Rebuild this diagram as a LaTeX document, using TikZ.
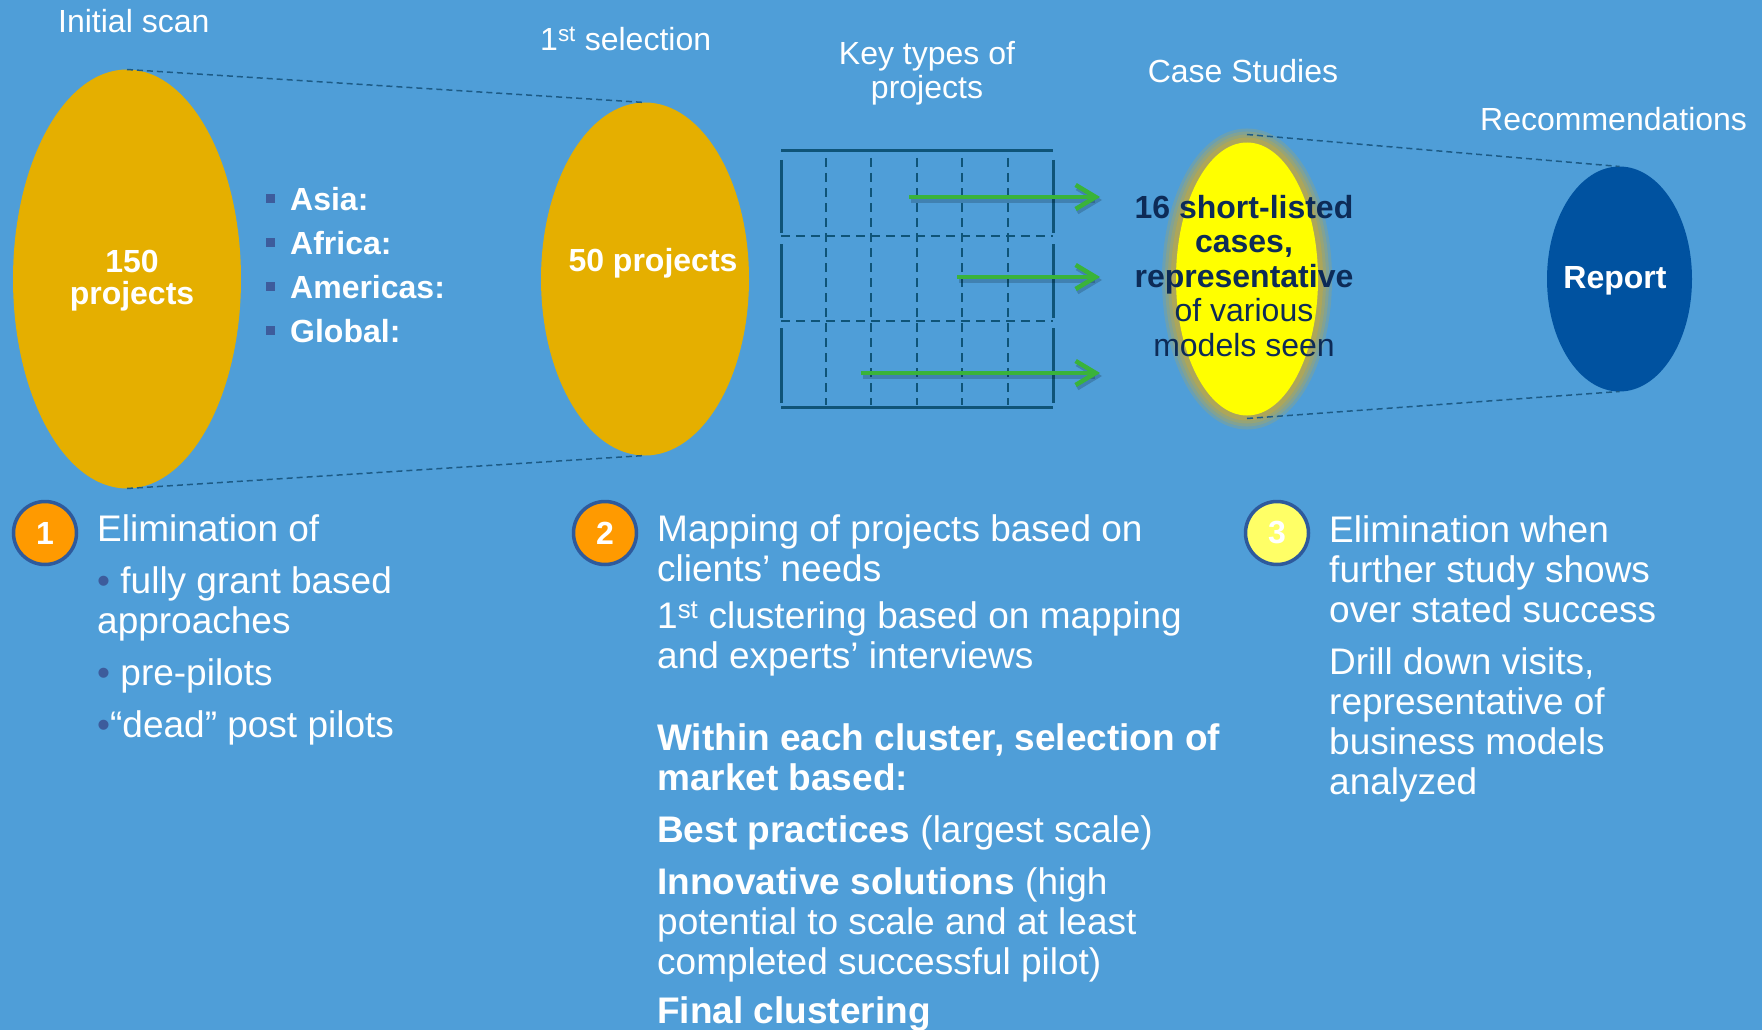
\documentclass[tikz,border=0pt]{standalone}
\usepackage{fontspec}
\setmainfont{Liberation Sans}
\usetikzlibrary{shapes.geometric,arrows.meta,positioning}
\usepackage{xcolor}

\definecolor{slide}{HTML}{4F9ED8}
\definecolor{gold}{HTML}{E5AF00}
\definecolor{caseyellow}{HTML}{FFFF00}
\definecolor{haloc}{HTML}{C9A935}
\definecolor{reportblue}{HTML}{0052A0}
\definecolor{navy}{HTML}{0D2B57}
\definecolor{linkblue}{HTML}{1D5B86}
\definecolor{gridblue}{HTML}{0F5478}
\definecolor{dotblue}{HTML}{3D5C9C}
\definecolor{pickgreen}{HTML}{3AB33A}
\definecolor{numrim}{HTML}{2E5A9C}
\definecolor{numorange}{HTML}{FF9A00}
\definecolor{numyellow}{HTML}{FFFF66}

\newcommand\dotmark{\textcolor{dotblue}{•}}

\begin{document}
\begin{tikzpicture}[x=1pt,y=1pt,
stage/.style={ellipse, inner sep=0pt, outer sep=0pt},
halo/.style={preaction={draw=haloc, line width=28pt, draw opacity=.22},
             preaction={draw=haloc, line width=22pt, draw opacity=.25},
             preaction={draw=haloc, line width=16pt, draw opacity=.3},
             preaction={draw=haloc, line width=10pt, draw opacity=.45}},
heading/.style={text=white, font=\fontsize{32}{34}\selectfont, inner sep=0pt, align=center},
stagetext/.style={text=white, font=\bfseries\fontsize{32}{32}\selectfont, inner sep=0pt, align=center},
region/.style={text=white, font=\bfseries\fontsize{32}{35}\selectfont, inner sep=0pt, anchor=base west},
stepnum/.style={circle, draw=numrim, line width=3.5pt, minimum size=63pt, inner sep=0pt, text=white, font=\bfseries\fontsize{32}{32}\selectfont},
body/.style={text=white, font=\fontsize{37}{40}\selectfont, inner sep=0pt, align=left, anchor=base west},
link/.style={linkblue, line width=1.5pt, dash pattern=on 6pt off 4pt},
gridsolid/.style={gridblue, line width=3pt},
griddash/.style={gridblue, line width=2.5pt, dash pattern=on 9pt off 6pt},
pick/.style={pickgreen, line width=4.5pt, -{Straight Barb[length=20pt, width=24pt]}},
pickshadow/.style={black, opacity=.18, line width=5pt, -{Straight Barb[length=20pt, width=24pt]}},
]

% background
\fill[slide] (0,0) rectangle (1762,-1030);
\useasboundingbox (0,0) rectangle (1762,-1030);
\clip (0,0) rectangle (1762,-1030);

% the funnel stages
\node[stage, fill=gold, minimum width=228pt, minimum height=419pt] (scan) at (127,-279) {};
\node[stage, fill=gold, minimum width=208pt, minimum height=353pt, right=300pt of scan] (sel) {};
\node[stage, halo, fill=caseyellow, minimum width=142pt, minimum height=273pt, right=427pt of sel] (cases) {};
\node[stage, fill=reportblue, minimum width=145pt, minimum height=225pt, right=229pt of cases] (report) {};

\draw[link] (scan.north) -- (sel.north);
\draw[link] (scan.south) -- (sel.south);
\draw[link] ([yshift=8pt]cases.north) -- (report.north);
\draw[link] ([yshift=-3pt]cases.south) -- (report.south);

% headings (base = last line)
\node[heading, anchor=base west] (scanhead) at (58,-33) {Initial scan};
\node[heading, anchor=base west] (selhead) at (540,-51) {1\textsuperscript{st} selection};
\node[heading, anchor=base] (typehead) at (927,-99) {Key types of\\projects};
\node[heading, anchor=base] (casehead) at (1243,-83) {Case Studies};
\node[heading, anchor=base west] (recohead) at (1480,-131) {Recommendations};

% stage texts
\node[stagetext, anchor=base] (scantext) at (132,-304) {150\\projects};
\node[stagetext, anchor=base] (seltext) at (653,-271) {50 projects};
\node[text=navy, font=\fontsize{32}{34.5}\selectfont, inner sep=0pt, align=center, anchor=base] (casetext) at (1244,-356)
  {\textbf{16 short-listed}\\\textbf{cases,}\\\textbf{representative}\\of various\\models seen};
\node[stagetext, anchor=base] (reporttext) at (1615,-288) {Report};

% regions
\foreach \reg [count=\i] in {Asia:,Africa:,Americas:,Global:}
  \node[region] (reg\i) at (266,-210-44*\i+44) {\textcolor{dotblue}{\rule[7.5pt]{9pt}{9pt}}\hspace{15pt}\reg};

% grid of project types
\draw[gridsolid] (781,-151) -- (1053,-151);
\draw[gridsolid] (781,-407) -- (1053,-407);
\foreach \r in {0,1,2} {
  \draw[gridsolid] (781,-160-84*\r) -- (781,-233-85*\r);
  \draw[gridsolid] (1053,-160-84*\r) -- (1053,-233-85*\r);
}
\foreach \y in {236,321}
  \draw[griddash] (781,-\y) -- (1053,-\y);
\foreach \x in {826,871,917,962,1008}
  \draw[griddash] (\x,-158) -- (\x,-405);

% picks into the case studies
\coordinate (from1) at (909,-197);
\coordinate (from2) at (957,-277);
\coordinate (from3) at (861,-373);
\coordinate (to1) at (1100,-197);
\coordinate (to2) at (1100,-277);
\coordinate (to3) at (1100,-373);
\foreach \i in {1,2,3} {
  \draw[pickshadow, transform canvas={shift={(2pt,-3pt)}}] (from\i) -- (to\i);
  \draw[pick] (from\i) -- (to\i);
}

% steps
\node[stepnum, fill=numorange] (one) at (45,-533) {1};
\node[stepnum, fill=numorange] (two) at (605,-533) {2};
\node[stepnum, fill=numyellow] (three) at (1277,-533) {3};

\node[body] (elim) at (97,-737) {Elimination of\\[12pt]
  \dotmark\ fully grant based\\
  approaches\\[12pt]
  \dotmark\ pre-pilots\\[12pt]
  \dotmark“dead” post pilots};

\node[body] (mapping) at (657,-1023) {Mapping of projects based on\\
  clients’ needs\\[7pt]
  1\textsuperscript{st} clustering based on mapping\\
  and experts’ interviews\\[42pt]
  \textbf{Within each cluster, selection of}\\
  \textbf{market based:}\\[12pt]
  \textbf{Best practices} (largest scale)\\[12pt]
  \textbf{Innovative solutions} (high\\
  potential to scale and at least\\
  completed successful pilot)\\[9pt]
  \textbf{Final clustering}};

\node[body] (drill) at (1329,-794) {Elimination when\\
  further study shows\\
  over stated success\\[12pt]
  Drill down visits,\\
  representative of\\
  business models\\
  analyzed};

\end{tikzpicture}
\end{document}
